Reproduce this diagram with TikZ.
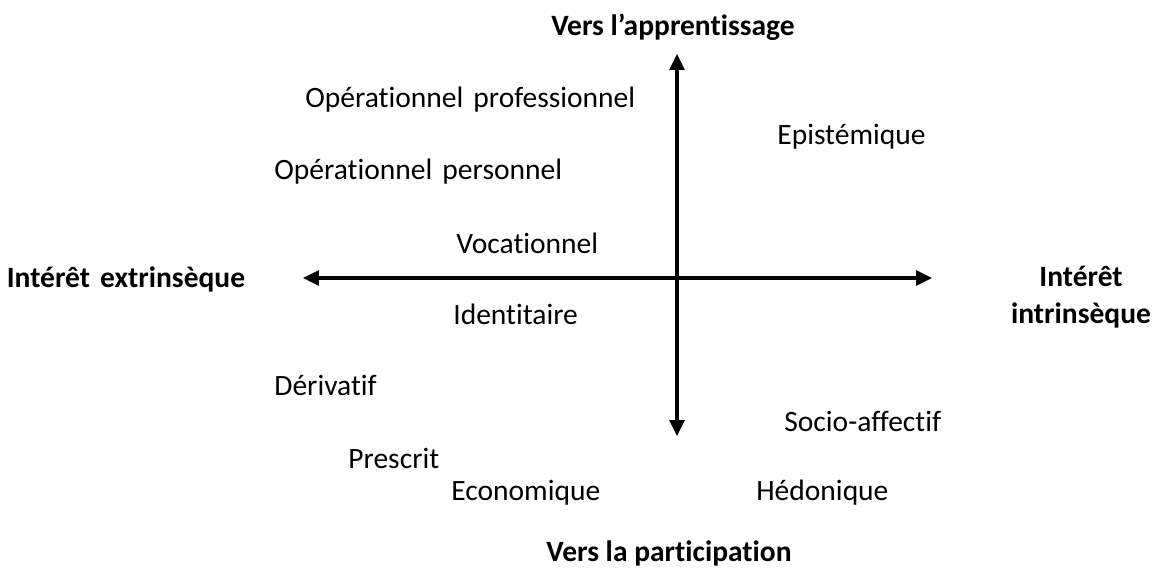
\documentclass[tikz,border=0pt]{standalone}
\usepackage{fontspec}
\setmainfont{Carlito}[Ligatures=NoCommon]
\usepackage{tikz}
\usetikzlibrary{
  arrows.meta,
  positioning
}
\newcommand{\gap}{\ \hspace{2pt}}
\tikzset{
  axis/.style={
    {Triangle[length=0.32cm,width=0.3cm]}-{Triangle[length=0.32cm,width=0.3cm]},
    line width=1.8pt
  },
  pole/.style={
    font=\fontsize{16.8}{20}\selectfont\bfseries,
    align=center,
    inner sep=0pt
  },
  interest/.style={
    font=\fontsize{16.8}{20}\selectfont,
    anchor=west,
    inner sep=0pt
  }
}
\begin{document}
\begin{tikzpicture}[
  x=0.02cm,
  y=-0.02cm
]

  \useasboundingbox (0,0) rectangle (1154,578);

  % axes
  \coordinate (top) at (677,54);
  \coordinate (bottom) at (677,436);
  \coordinate (left) at (303,278);
  \coordinate (right) at (932,278);

  \draw[axis] (bottom) -- (top);
  \draw[axis] (left) -- (right);

  % poles
  \node[pole] (apprentissage) at (673,27) {Vers l’apprentissage};
  \node[pole] (participation) at (669,553) {Vers la participation};
  \node[pole] (extrinseque) at (126,279) {Intérêt\gap extrinsèque};
  \node[pole] (intrinseque) at (1081,297) {Intérêt\\[1pt]intrinsèque};

  % interests
  \node[interest] (opprof) at (305,100) {Opérationnel\gap professionnel};
  \node[interest] (episteme) at (777,137) {Epistémique};
  \node[interest] (oppers) at (274,172) {Opérationnel\gap personnel};
  \node[interest] (vocation) at (456,243) {Vocationnel};
  \node[interest] (identite) at (453,314) {Identitaire};
  \node[interest] (derivatif) at (274,385) {Dérivatif};
  \node[interest] (socio) at (784,421) {Socio-affectif};
  \node[interest] (prescrit) at (348,458) {Prescrit};
  \node[interest] (economique) at (451,493) {Economique};
  \node[interest] (hedonique) at (756,493) {Hédonique};

\end{tikzpicture}
\end{document}
